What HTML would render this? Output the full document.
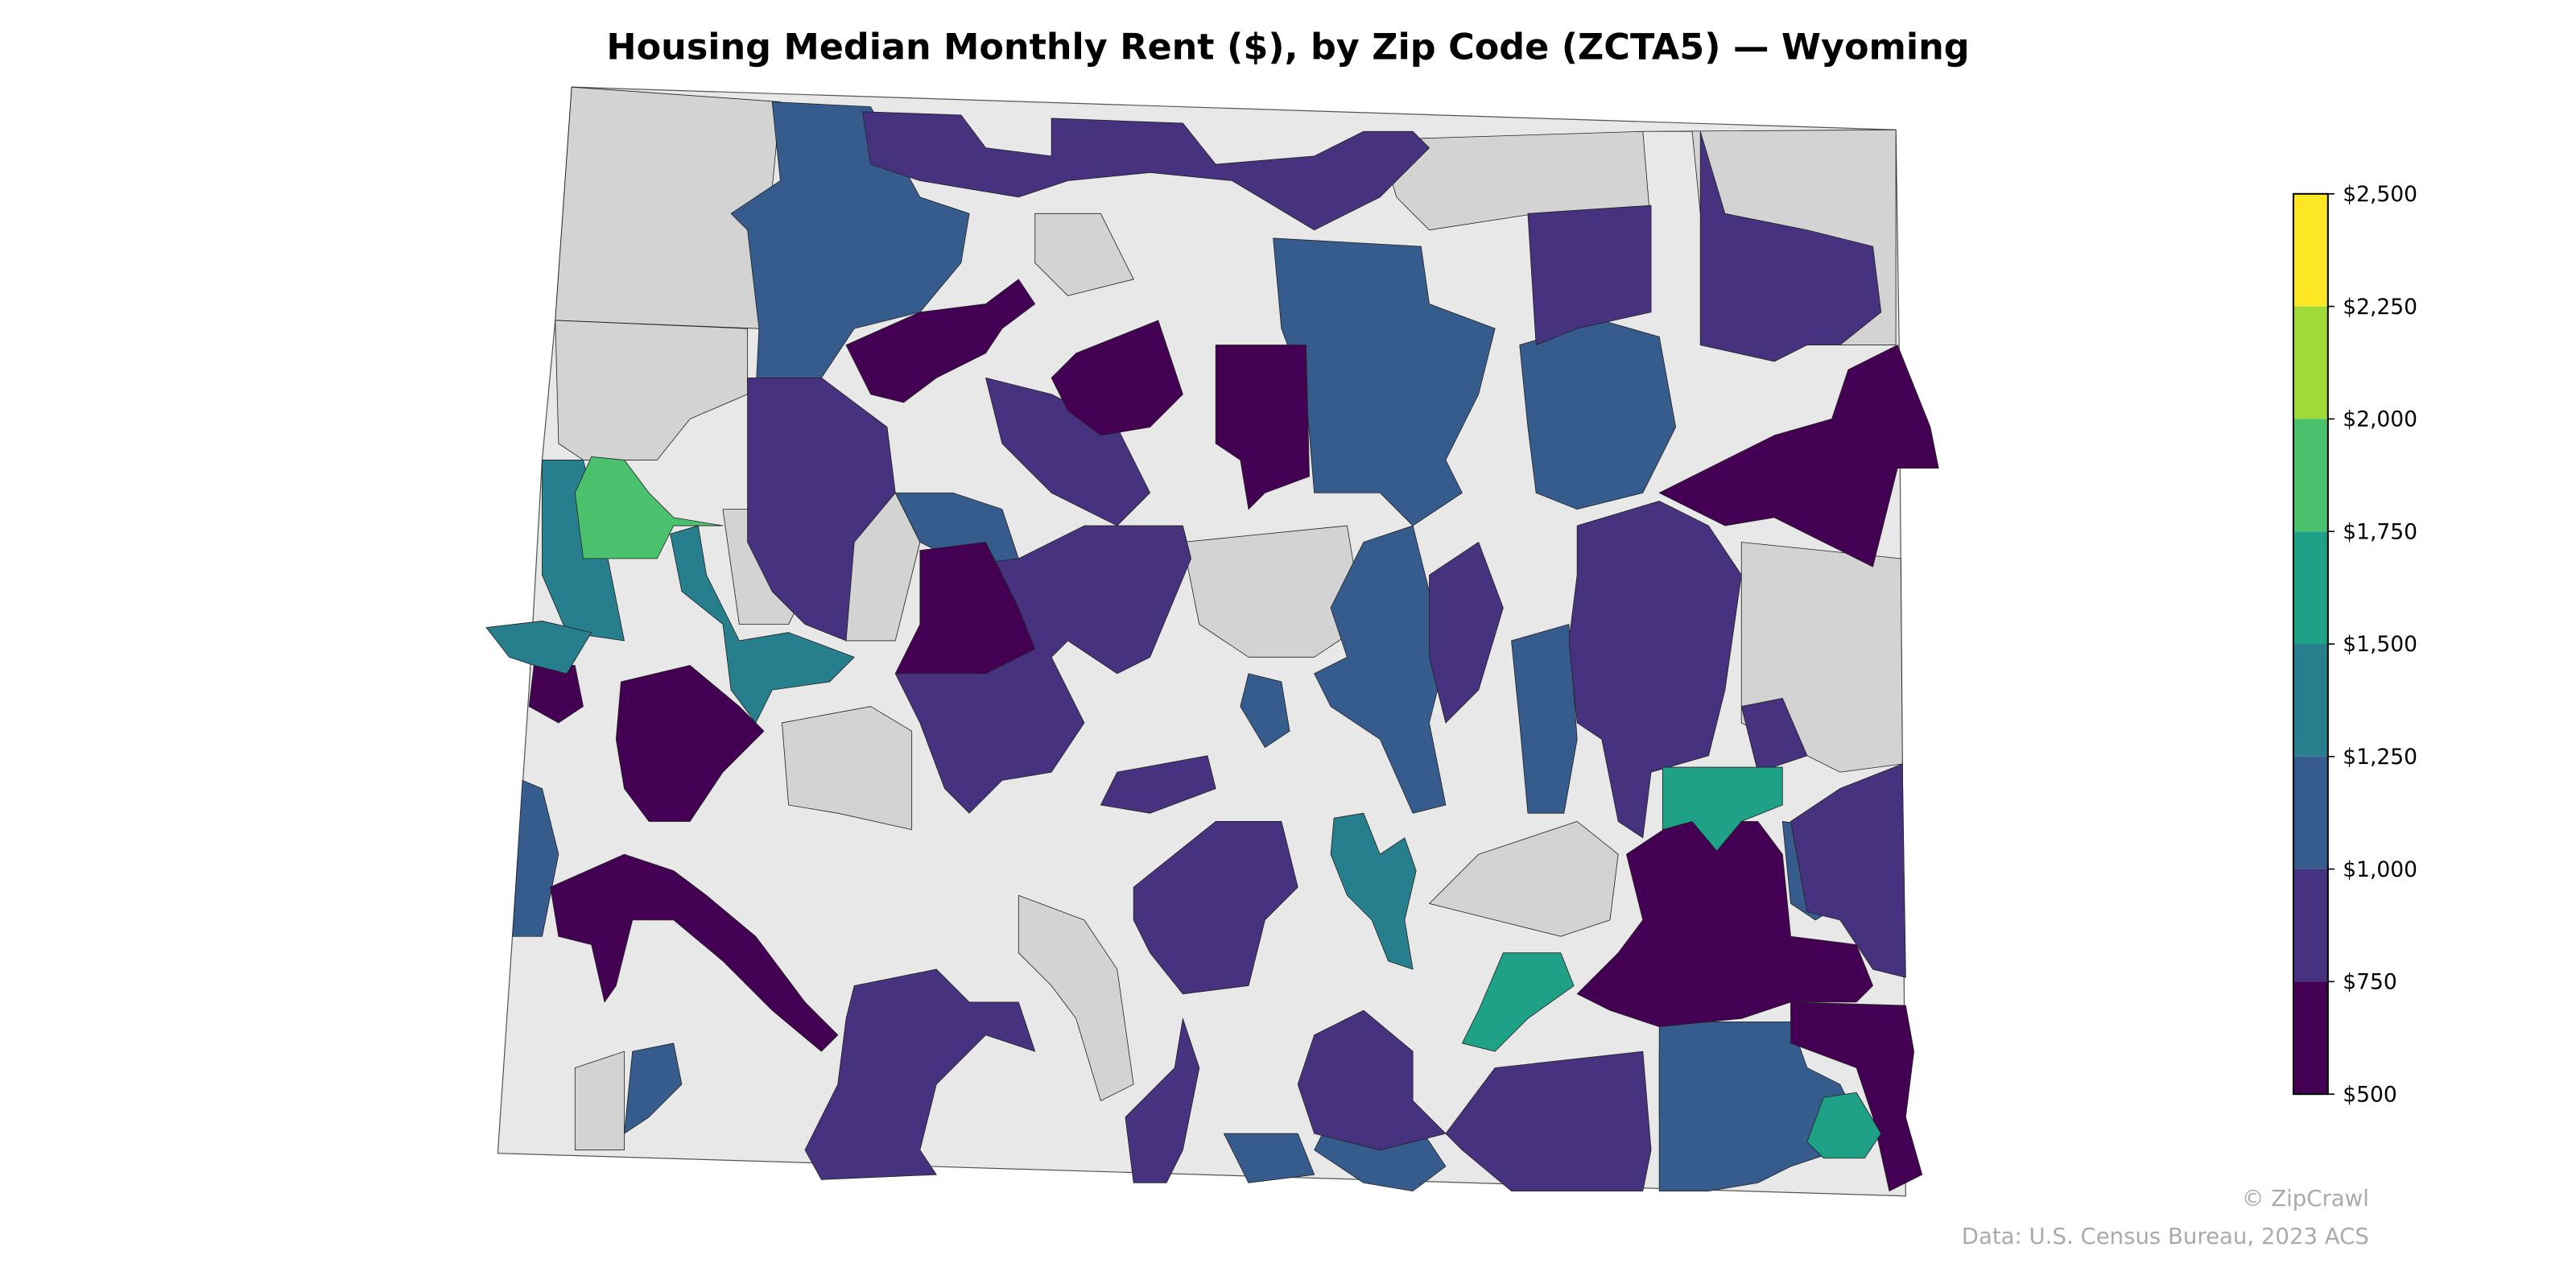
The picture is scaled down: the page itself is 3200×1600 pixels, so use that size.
<!DOCTYPE html>
<html><head><meta charset="utf-8"><style>
html,body{margin:0;padding:0;background:#fff;}
svg{display:block;}
text{font-family:"DejaVu Sans","Liberation Sans",sans-serif;}
</style></head><body>
<svg width="3200" height="1600" viewBox="0 0 1568 784" xmlns="http://www.w3.org/2000/svg">
<rect width="1568" height="784" fill="#fff"/>
<text x="784" y="36" text-anchor="middle" font-size="21.8" font-weight="bold" fill="#000">Housing Median Monthly Rent ($), by Zip Code (ZCTA5) — Wyoming</text>
<g stroke="#222" stroke-width="0.4" stroke-linejoin="round">
<polygon points="348,53 1154,79 1156,210 1160,728 303,702 322,420 330,280 338,195" fill="#e8e8e8" stroke="#555" stroke-width="0.6"/>
<g fill="#d3d3d3">
<polygon points="348,53 475,62 462,200 338,195"/>
<polygon points="1000,80 1154,79 1154,210 1100,210 1080,140 1035,130 1030,80"/>
<polygon points="840,85 1000,80 1005,140 935,130 870,140 850,120"/>
<polygon points="1060,330 1157,340 1158,465 1120,470 1100,460 1060,440"/>
<polygon points="338,195 455,200 455,240 420,255 400,280 355,280 340,270"/>
<polygon points="476,440 530,430 555,445 555,505 510,495 480,490"/>
<polygon points="720,330 820,320 830,380 800,400 760,400 730,380"/>
<polygon points="620,545 660,560 680,590 690,660 670,670 655,620 640,600 620,580"/>
<polygon points="900,520 960,500 985,520 980,560 950,570 910,560 870,550"/>
<polygon points="350,650 380,640 380,700 350,700"/>
<polygon points="1010,640 1040,640 1040,680 1010,680"/>
<polygon points="515,330 545,300 560,330 545,390 515,390"/>
<polygon points="440,310 480,310 500,340 480,380 450,380"/>
<polygon points="630,130 670,130 690,170 650,180 630,160"/>
</g>
<g fill="#365c8d">
<polygon points="470,62 530,65 560,120 590,130 585,160 560,190 520,200 500,230 480,250 460,240 462,200 455,140 445,130 475,110"/>
<polygon points="775,145 865,150 870,185 910,200 900,240 880,280 890,300 860,320 840,300 800,300 795,240 780,200"/>
<polygon points="925,210 975,195 1010,205 1020,260 1000,300 960,310 935,300 930,260"/>
<polygon points="920,390 955,380 960,450 952,495 930,495 925,440"/>
<polygon points="830,330 860,320 870,360 880,400 870,440 880,490 860,495 840,450 810,430 800,410 820,400 810,370"/>
<polygon points="810,680 860,680 880,710 860,725 830,720 800,700"/>
<polygon points="1010,622 1090,622 1100,650 1120,660 1130,680 1120,700 1090,710 1070,720 1040,725 1010,725"/>
<polygon points="1085,500 1125,505 1130,545 1105,560 1090,550"/>
<polygon points="318,475 330,480 340,520 330,570 312,570"/>
<polygon points="385,640 410,635 415,660 395,680 380,690"/>
<polygon points="760,410 780,415 785,445 770,455 755,430"/>
<polygon points="745,690 790,690 800,715 760,720"/>
<polygon points="545,300 580,300 610,310 620,340 590,345 560,330"/>
</g>
<g fill="#46327e">
<polygon points="525,68 585,70 600,90 640,95 640,72 720,75 740,100 800,95 830,80 860,80 870,90 840,120 800,140 750,110 700,105 650,110 620,120 590,115 560,110 530,100"/>
<polygon points="930,130 1005,125 1005,190 960,200 935,210"/>
<polygon points="1035,80 1050,130 1100,140 1140,150 1145,190 1120,210 1100,210 1080,220 1035,210 1035,150"/>
<polygon points="455,230 500,230 540,260 545,300 520,330 515,390 490,380 470,360 455,330"/>
<polygon points="960,320 1010,305 1040,320 1060,350 1050,420 1040,460 1005,470 1000,510 985,500 975,450 960,440 955,390 960,350"/>
<polygon points="580,345 620,340 660,320 720,320 725,340 700,400 680,410 650,390 640,400 660,440 640,470 610,475 590,495 575,480 560,440 545,410 560,395 590,380 600,355"/>
<polygon points="520,600 570,590 590,610 620,610 630,640 600,630 570,660 560,700 570,715 500,718 490,700 510,660 515,620"/>
<polygon points="690,540 740,500 780,500 790,540 770,560 760,600 720,605 700,580 690,560"/>
<polygon points="910,650 1000,640 1005,700 1000,725 920,725 890,700 880,690"/>
<polygon points="800,630 830,615 860,640 860,670 880,690 840,700 800,690 790,660"/>
<polygon points="1120,480 1158,465 1160,595 1140,590 1120,560 1100,555 1090,500"/>
<polygon points="680,470 735,460 740,480 700,495 670,490"/>
<polygon points="685,680 715,650 720,620 730,650 720,700 710,720 690,720"/>
<polygon points="600,230 640,240 680,260 700,300 680,320 640,300 610,270"/>
<polygon points="870,350 900,330 915,370 900,420 880,440 870,400"/>
<polygon points="1060,430 1085,425 1100,460 1070,470"/>
</g>
<g fill="#440154">
<polygon points="515,210 560,190 600,185 620,170 630,185 610,200 600,215 570,230 550,245 530,240"/>
<polygon points="740,210 795,210 797,290 770,300 760,310 755,280 740,270"/>
<polygon points="655,215 705,195 720,240 700,260 670,265 650,250 640,230"/>
<polygon points="1125,225 1155,210 1175,260 1180,285 1155,285 1140,345 1110,330 1080,315 1050,320 1030,310 1010,300 1040,285 1080,265 1115,255"/>
<polygon points="560,335 600,330 620,370 630,395 600,410 570,410 545,410 560,380"/>
<polygon points="990,520 1020,500 1070,500 1085,520 1090,570 1130,575 1140,600 1130,610 1090,610 1060,620 1010,625 980,615 960,605 985,580 1000,560"/>
<polygon points="1090,610 1160,612 1165,640 1160,680 1170,715 1150,725 1140,680 1130,650 1090,635"/>
<polygon points="325,405 350,405 355,430 340,440 322,430"/>
<polygon points="378,415 420,405 450,430 465,445 440,470 420,500 395,500 380,480 375,450"/>
<polygon points="335,540 380,520 410,530 430,545 460,570 490,610 510,630 500,640 470,615 440,585 410,560 385,560 375,600 368,610 360,575 340,570"/>
</g>
<g fill="#277f8e">
<polygon points="330,280 355,280 360,300 370,340 380,390 345,385 330,350"/>
<polygon points="408,325 425,320 430,350 450,390 480,385 520,400 505,415 470,420 460,440 445,420 440,380 415,360"/>
<polygon points="296,382 330,378 360,385 345,410 325,405 310,400"/>
<polygon points="812,498 830,495 840,520 855,510 862,530 855,560 860,590 845,585 835,560 820,545 810,520"/>
</g>
<g fill="#1fa187">
<polygon points="1012,467 1085,467 1085,490 1060,500 1045,518 1030,500 1012,505"/>
<polygon points="1110,668 1130,665 1145,690 1135,705 1110,705 1100,695"/>
<polygon points="915,580 950,580 958,600 930,620 910,640 890,635 900,615"/>
</g>
<polygon points="360,278 380,280 395,300 410,315 440,320 410,320 400,340 355,340 350,300" fill="#4ac16d"/>
</g>
<g stroke="none">
<rect x="1396" y="118" width="21" height="68.5" fill="#fde725"/>
<rect x="1396" y="186.5" width="21" height="68.5" fill="#a0da39"/>
<rect x="1396" y="255" width="21" height="68.5" fill="#4ac16d"/>
<rect x="1396" y="323.5" width="21" height="68.5" fill="#1fa187"/>
<rect x="1396" y="392" width="21" height="68.5" fill="#277f8e"/>
<rect x="1396" y="460.5" width="21" height="68.5" fill="#365c8d"/>
<rect x="1396" y="529" width="21" height="68.5" fill="#46327e"/>
<rect x="1396" y="597.5" width="21" height="68.5" fill="#440154"/>
</g>
<rect x="1396" y="118" width="21" height="548" fill="none" stroke="#000" stroke-width="1"/>
<g stroke="#000" stroke-width="0.8">
<line x1="1417" x2="1421" y1="118" y2="118"/><line x1="1417" x2="1421" y1="186.5" y2="186.5"/>
<line x1="1417" x2="1421" y1="255" y2="255"/><line x1="1417" x2="1421" y1="323.5" y2="323.5"/>
<line x1="1417" x2="1421" y1="392" y2="392"/><line x1="1417" x2="1421" y1="460.5" y2="460.5"/>
<line x1="1417" x2="1421" y1="529" y2="529"/><line x1="1417" x2="1421" y1="597.5" y2="597.5"/>
<line x1="1417" x2="1421" y1="666" y2="666"/>
</g>
<g font-size="13" fill="#000">
<text x="1426" y="122.5">$2,500</text><text x="1426" y="191">$2,250</text>
<text x="1426" y="259.5">$2,000</text><text x="1426" y="328">$1,750</text>
<text x="1426" y="396.5">$1,500</text><text x="1426" y="465">$1,250</text>
<text x="1426" y="533.5">$1,000</text><text x="1426" y="602">$750</text>
<text x="1426" y="670.5">$500</text>
</g>
<text x="1442" y="734" text-anchor="end" font-size="13.5" fill="#aaa">© ZipCrawl</text>
<text x="1442" y="757" text-anchor="end" font-size="13.5" fill="#aaa">Data: U.S. Census Bureau, 2023 ACS</text>
</svg>
</body></html>
